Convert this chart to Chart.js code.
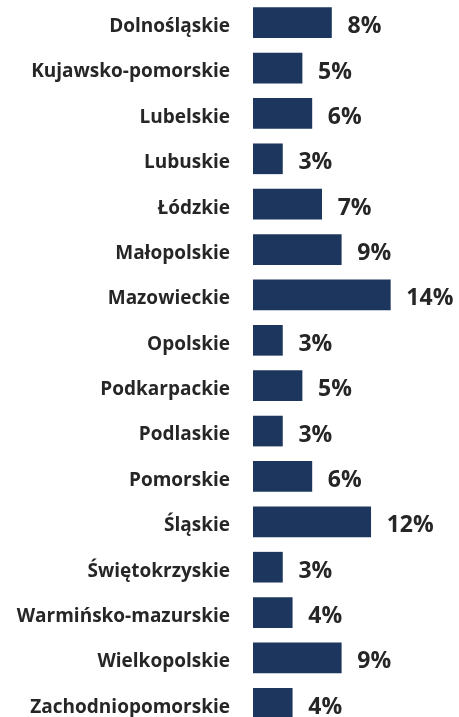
<!DOCTYPE html>
<html lang="pl">
<head>
  <meta charset="UTF-8" />
  <title>Województwa</title>
  <script src="https://cdn.jsdelivr.net/npm/chart.js"></script>
  <style>
    html, body {
      margin: 0;
      padding: 0;
      background: #ffffff;
      overflow: hidden;
    }
    .chart-box {
      position: relative;
      width: 459px;
      height: 726px;
    }
  </style>
</head>
<body>
  <div class="chart-box">
    <canvas id="regionChart"></canvas>
  </div>

  <script>
    const regions = [
      'Dolnośląskie', 'Kujawsko-pomorskie', 'Lubelskie', 'Lubuskie',
      'Łódzkie', 'Małopolskie', 'Mazowieckie', 'Opolskie',
      'Podkarpackie', 'Podlaskie', 'Pomorskie', 'Śląskie',
      'Świętokrzyskie', 'Warmińsko-mazurskie', 'Wielkopolskie', 'Zachodniopomorskie'
    ];
    const shares = [8, 5, 6, 3, 7, 9, 14, 3, 5, 3, 6, 12, 3, 4, 9, 4];

    const FONT = '"Open Sans", "Noto Sans", sans-serif';

    // value labels to the right of each bar
    const valueLabels = {
      id: 'valueLabels',
      afterDatasetsDraw(chart) {
        const { ctx } = chart;
        const meta = chart.getDatasetMeta(0);
        ctx.save();
        ctx.font = 'bold 23px ' + FONT;
        ctx.fillStyle = '#262626';
        ctx.textAlign = 'left';
        ctx.textBaseline = 'middle';
        meta.data.forEach((bar, i) => {
          ctx.fillText(shares[i] + '%', bar.x + 16, bar.y + 4);
        });
        ctx.restore();
      }
    };

    new Chart(document.getElementById('regionChart'), {
      type: 'bar',
      data: {
        labels: regions,
        datasets: [{
          data: shares,
          backgroundColor: '#1d365d',
          barThickness: 30
        }]
      },
      options: {
        indexAxis: 'y',
        responsive: true,
        maintainAspectRatio: false,
        animation: false,
        layout: { padding: 0 },
        plugins: {
          legend: { display: false },
          tooltip: { enabled: false }
        },
        scales: {
          x: {
            display: false,
            min: 0,
            max: 21
          },
          y: {
            grid: { display: false, drawTicks: false },
            border: { display: false },
            ticks: {
              padding: 23,
              labelOffset: 4,
              color: '#262626',
              font: { family: FONT, size: 19, weight: 'bold' }
            },
            afterFit(scale) {
              scale.width = 253;
              // the rows fill the whole height, no extra room for labels
              scale.paddingTop = 0;
              scale.paddingBottom = 0;
            }
          }
        }
      },
      plugins: [valueLabels]
    });
  </script>
</body>
</html>
